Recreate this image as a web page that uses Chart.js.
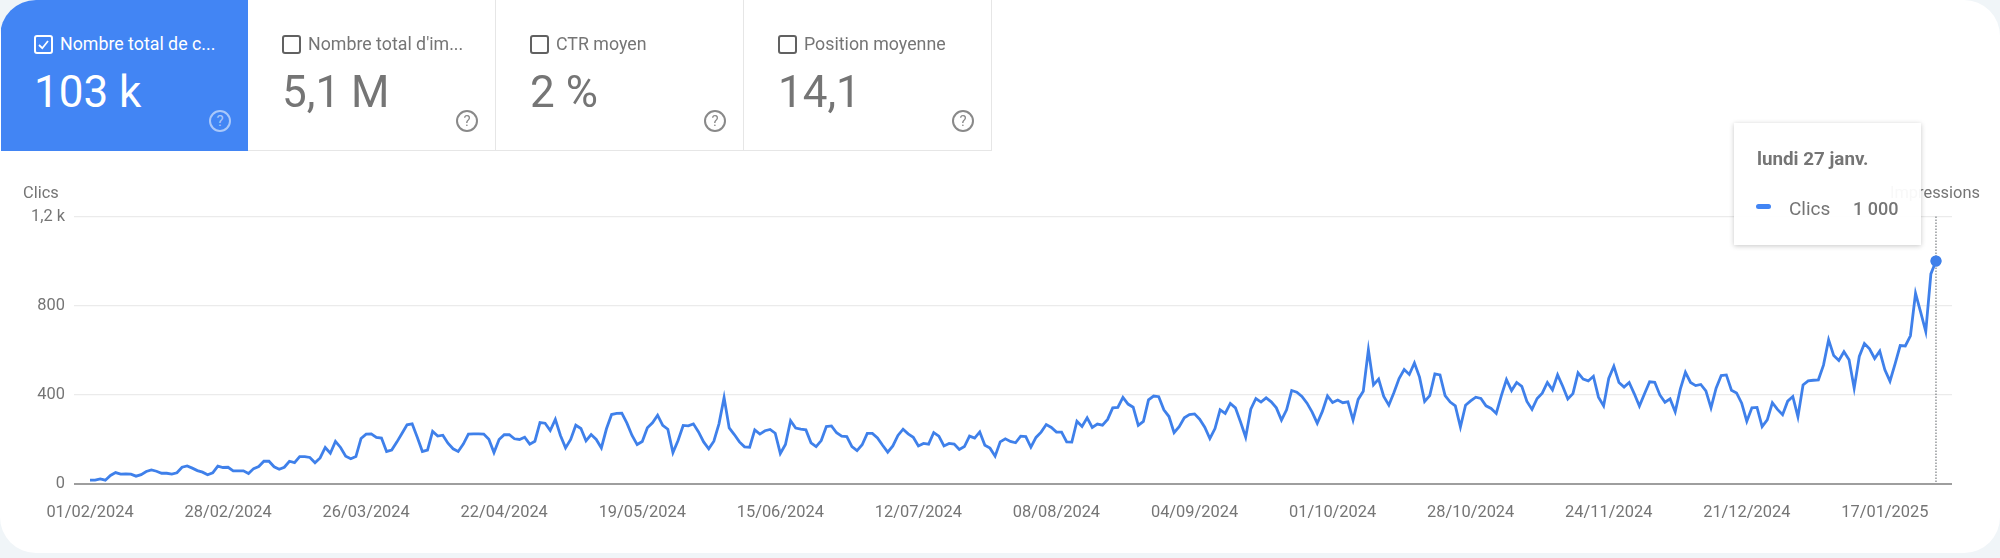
<!DOCTYPE html>
<html><head><meta charset="utf-8">
<script src="https://cdn.jsdelivr.net/npm/chart.js@4"></script>
<style>
html,body{margin:0;padding:0;width:2000px;height:558px;overflow:hidden;background:#f0f5f8;font-family:Roboto,sans-serif}
#card{position:absolute;left:0;top:0;width:2000px;height:553px;background:#fff;border-radius:36px;overflow:hidden}
canvas{position:absolute;left:0;top:0}
.t{position:absolute;left:1px;top:0;width:247px;height:151px;box-sizing:border-box;border-right:1px solid #e6e6e6;border-bottom:1px solid #e6e6e6;color:#757575}
.t.on{background:#4285f4;color:#fff;border-color:#4285f4}
.t .c{position:absolute;left:34px;top:35px;width:15px;height:15px;border:2px solid #616161;border-radius:3px}
.t.on .c{border-color:#fff}
.t .c svg{position:absolute;left:0;top:0;width:15px;height:15px}
.t .n{position:absolute;left:60px;top:32px;font-size:17.8px;line-height:24px;white-space:nowrap}
.t .v{position:absolute;left:34px;top:66px;font-size:44px;line-height:52px;white-space:nowrap}
.t .h{position:absolute;left:208px;top:110px;width:18px;height:18px;border:2px solid currentColor;border-radius:50%;font-size:15px;line-height:18px;text-align:center;opacity:.85}
.t.on .h{opacity:.55}
.lab{position:absolute;font-size:16.4px;line-height:20px;color:#757575;white-space:nowrap}
#tip{position:absolute;left:1734px;top:123px;width:187px;height:122px;background:rgba(255,255,255,.95);box-shadow:0 1px 5px rgba(0,0,0,.22);color:#757575}
#tip div{position:absolute;white-space:nowrap}
</style></head><body>
<div id="card">
<canvas id="c" width="2000" height="553"></canvas>
<div class="t on" style="left:1px;width:247px"><span class="c" style="left:33px"><svg viewBox="0 0 15 15"><polyline points="3,8 6.3,11.2 12,4" fill="none" stroke="#fff" stroke-width="1.8"/></svg></span><span class="n" style="left:59px">Nombre total de c...</span><span class="v" style="left:33px">103 k</span><span class="h">?</span></div>
<div class="t" style="left:248px;width:248px"><span class="c"></span><span class="n">Nombre total d'im...</span><span class="v">5,1 M</span><span class="h">?</span></div>
<div class="t" style="left:496px;width:248px"><span class="c"></span><span class="n">CTR moyen</span><span class="v">2 %</span><span class="h">?</span></div>
<div class="t" style="left:744px;width:248px"><span class="c"></span><span class="n">Position moyenne</span><span class="v">14,1</span><span class="h">?</span></div>
<div class="lab" style="left:23px;top:183px">Clics</div>
<div class="lab" style="left:1890px;top:183px">Impressions</div>
<div id="tip">
<div style="left:23px;top:24px;font-size:18.8px;line-height:24px;font-weight:700">lundi 27 janv.</div>
<div style="left:22px;top:81px;width:15px;height:5px;border-radius:3px;background:#4285f4"></div>
<div style="left:55px;top:74px;font-size:19px;line-height:24px">Clics</div>
<div style="left:119px;top:74px;font-size:18px;line-height:24px;font-weight:500">1 000</div>
</div>
</div>
<script>
const clicks=[15,15,21,15,36,49,42,43,42,33,40,54,61,55,46,46,42,48,73,79,
69,58,51,39,48,78,72,73,57,57,57,45,67,76,100,100,75,64,73,100,
94,121,121,117,93,115,162,136,189,162,123,111,121,202,222,223,207,204,144,150,
186,225,264,268,208,144,150,234,213,217,181,156,144,177,222,223,223,222,199,139,
198,219,219,201,198,208,177,190,274,271,238,288,216,160,198,262,247,192,220,198,
160,246,310,315,316,271,216,175,189,250,273,307,261,244,139,193,261,259,268,232,
187,156,190,268,386,250,220,187,165,163,241,222,237,243,226,135,175,282,249,244,
241,183,166,193,256,259,228,213,211,166,148,174,225,225,205,172,141,169,216,244,
223,208,169,180,177,229,213,169,180,177,153,166,213,204,232,172,159,123,187,201,
189,183,213,211,163,207,231,265,252,231,231,187,186,280,256,295,252,267,262,288,
340,342,387,357,343,261,279,376,393,390,331,301,228,255,295,310,313,289,253,202,
247,331,315,360,340,276,208,334,382,366,385,367,340,285,331,418,410,391,361,321,
271,324,394,364,375,363,367,285,378,415,601,443,469,391,352,409,472,512,490,542,
478,369,395,493,488,395,366,349,254,352,371,388,382,349,337,315,395,467,418,454,
437,369,333,382,406,454,421,488,437,380,404,497,469,461,482,388,349,472,527,454,
433,454,403,348,403,457,455,398,365,380,322,424,500,454,440,445,416,340,428,485,
488,419,407,361,280,340,342,256,286,363,333,309,370,391,300,443,461,464,466,532,
646,575,553,592,556,428,571,629,605,562,595,511,460,538,620,618,664,855,770,683,
942,1000];
const xTickDays=[0,27,54,81,108,135,162,189,216,243,270,297,324,351];
const xTickLabels=['01/02/2024','28/02/2024','26/03/2024','22/04/2024','19/05/2024','15/06/2024','12/07/2024','08/08/2024','04/09/2024','01/10/2024','28/10/2024','24/11/2024','21/12/2024','17/01/2025'];
const yTickValues=[0,400,800,1200];
const yTickLabels=['0','400','800','1,2 k'];
const grey='#757575';
const lineBlue='#3f80ea';
const lastIdx=clicks.length-1;
const cursor={id:'cursor',afterDatasetsDraw(ch){
  const {ctx,scales:{x,y}}=ch;const px=x.getPixelForValue(lastIdx);
  ctx.save();ctx.strokeStyle='#5f6368';ctx.lineWidth=1;ctx.setLineDash([1.5,1.5]);
  ctx.beginPath();ctx.moveTo(px,y.getPixelForValue(1200));ctx.lineTo(px,y.getPixelForValue(0));ctx.stroke();ctx.restore();
  const m=ch.getDatasetMeta(0).data[lastIdx];m.draw(ctx);
}};
Chart.defaults.font.family='Roboto, sans-serif';
new Chart(document.getElementById('c'),{
 type:'line',
 data:{datasets:[{label:'Clics',data:clicks.map((v,i)=>({x:i,y:v})),borderColor:lineBlue,backgroundColor:lineBlue,borderWidth:2.8,tension:0,
   pointRadius:c=>c.dataIndex===lastIdx?5.5:0,pointHoverRadius:5.5,pointBorderWidth:0,clip:false}]},
 plugins:[cursor],
 options:{responsive:false,animation:false,events:[],
  layout:{padding:{left:0,right:48,top:216.5,bottom:0}},
  plugins:{legend:{display:false},tooltip:{enabled:false}},
  scales:{
   x:{type:'linear',min:-3.13,max:364.13,
     afterBuildTicks(s){s.ticks=xTickDays.map(v=>({value:v}))},
     afterFit(s){s.height=69.5},
     grid:{display:false},border:{display:false},
     ticks:{autoSkip:false,maxRotation:0,padding:12,color:grey,font:{size:16.4},callback:v=>xTickLabels[xTickDays.indexOf(v)]}},
   y:{min:0,max:1200,
     afterBuildTicks(s){s.ticks=yTickValues.map(v=>({value:v}))},
     afterFit(s){s.width=74},
     grid:{drawTicks:false,color:c=>c.tick.value===0?'#9e9e9e':'#ebebeb',lineWidth:c=>c.tick.value===0?2:1.3},border:{display:false},
     ticks:{padding:9,color:grey,font:{size:16.4},callback:v=>yTickLabels[yTickValues.indexOf(v)]}}
  }}
});
</script>
</body></html>
